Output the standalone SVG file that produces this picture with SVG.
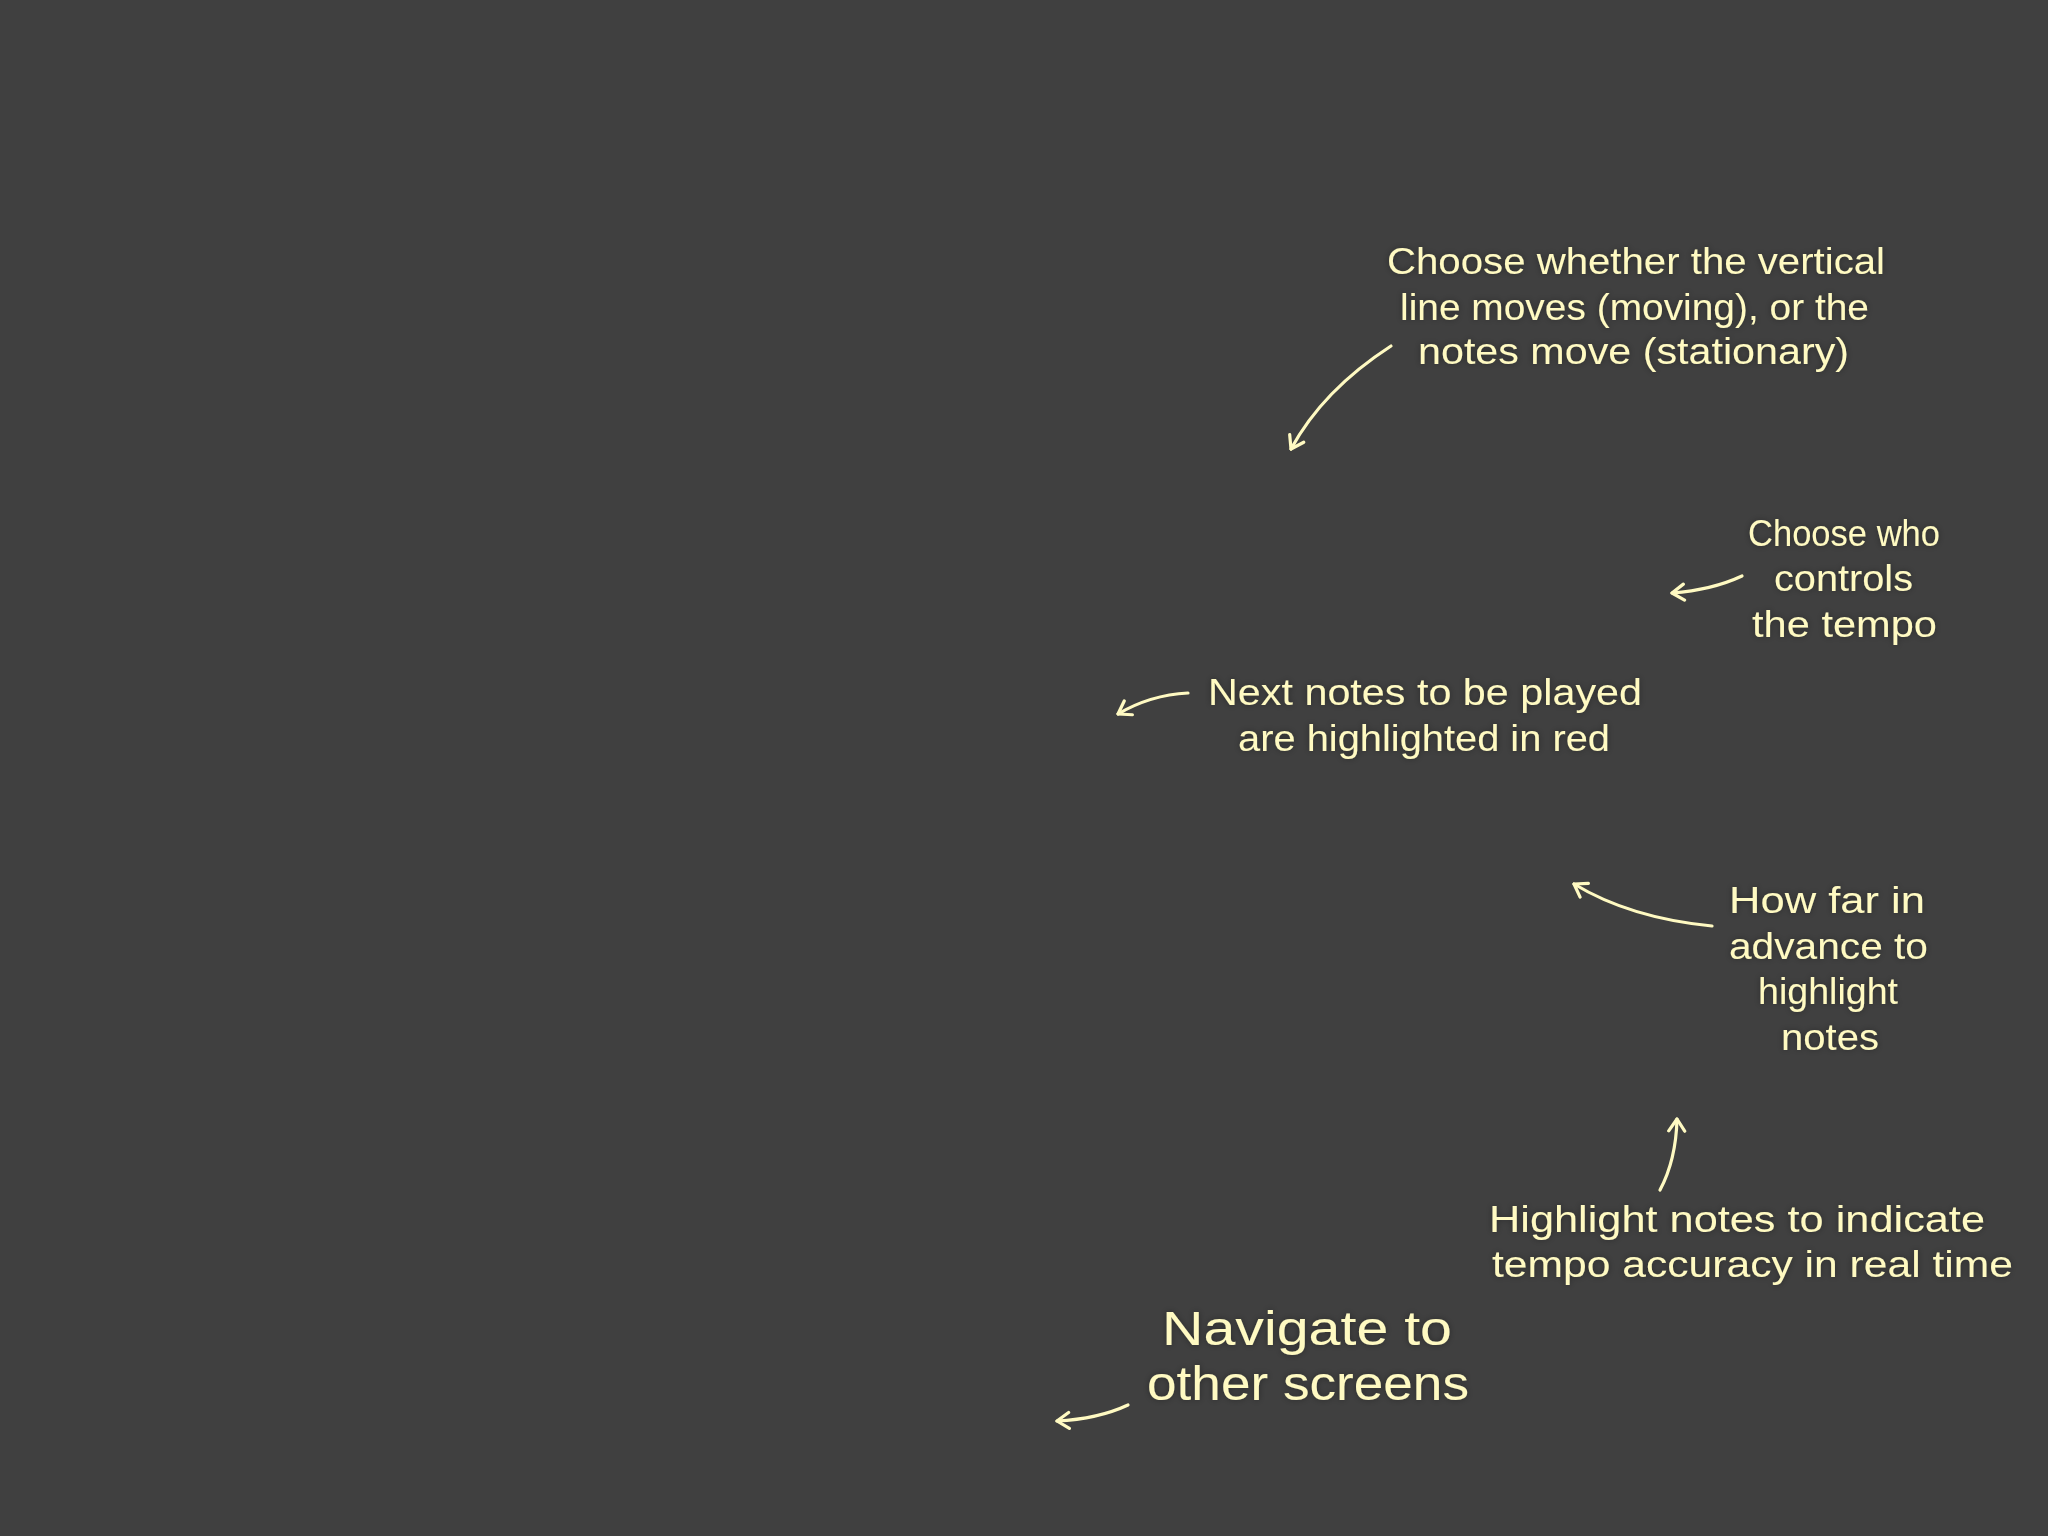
<svg xmlns="http://www.w3.org/2000/svg" width="2048" height="1536" viewBox="0 0 2048 1536">
<defs>
<style>
.t{font-family:"Liberation Sans","DejaVu Sans",sans-serif;font-size:36px;fill:#FFFAC2;}
.big{font-size:48px;}
.c{fill:none;stroke:#FFFAC2;stroke-width:3.2;stroke-linecap:round;stroke-linejoin:round;}
</style>
<marker id="ah" viewBox="-14 -10 16 20" markerWidth="16" markerHeight="20" refX="0" refY="0" orient="auto" markerUnits="userSpaceOnUse">
<path d="M -12 -8 L 0 0 L -12 8" fill="none" stroke="#FFFAC2" stroke-width="3.2" stroke-linecap="round" stroke-linejoin="round"/>
</marker>
<filter id="sh" x="-10%" y="-30%" width="120%" height="160%">
<feDropShadow dx="0" dy="0" stdDeviation="3" flood-color="#000" flood-opacity="0.35"/>
</filter>
</defs>
<rect width="2048" height="1536" fill="#404040"/>
<g id="connectors">
<path class="c" d="M 1391 346 Q 1323 390 1291 449" marker-end="url(#ah)"/>
<path class="c" d="M 1742 576 Q 1712 590 1672 593" marker-end="url(#ah)"/>
<path class="c" d="M 1188 693 Q 1150 695 1118 714" marker-end="url(#ah)"/>
<path class="c" d="M 1712 926 Q 1630 918 1574 884" marker-end="url(#ah)"/>
<path class="c" d="M 1660 1190 Q 1676 1160 1677 1119" marker-end="url(#ah)"/>
<path class="c" d="M 1128 1405 Q 1098 1419 1057 1421" marker-end="url(#ah)"/>
</g>
<g id="note-line-mode" filter="url(#sh)">
<text class="t" x="1387" y="274" textLength="498" lengthAdjust="spacingAndGlyphs">Choose whether the vertical</text>
<text class="t" x="1400" y="320" textLength="469" lengthAdjust="spacingAndGlyphs">line moves (moving), or the</text>
<text class="t" x="1418" y="364" textLength="431" lengthAdjust="spacingAndGlyphs">notes move (stationary)</text>
</g>
<g id="note-tempo-control" filter="url(#sh)">
<text class="t" x="1748" y="546" textLength="192" lengthAdjust="spacingAndGlyphs">Choose who</text>
<text class="t" x="1774" y="591" textLength="139" lengthAdjust="spacingAndGlyphs">controls</text>
<text class="t" x="1752" y="637" textLength="185" lengthAdjust="spacingAndGlyphs">the tempo</text>
</g>
<g id="note-next-notes" filter="url(#sh)">
<text class="t" x="1208" y="705" textLength="434" lengthAdjust="spacingAndGlyphs">Next notes to be played</text>
<text class="t" x="1238" y="751" textLength="372" lengthAdjust="spacingAndGlyphs">are highlighted in red</text>
</g>
<g id="note-advance" filter="url(#sh)">
<text class="t" x="1729" y="913" textLength="196" lengthAdjust="spacingAndGlyphs">How far in</text>
<text class="t" x="1729" y="959" textLength="199" lengthAdjust="spacingAndGlyphs">advance to</text>
<text class="t" x="1758" y="1004" textLength="140" lengthAdjust="spacingAndGlyphs">highlight</text>
<text class="t" x="1781" y="1050" textLength="98" lengthAdjust="spacingAndGlyphs">notes</text>
</g>
<g id="note-accuracy" filter="url(#sh)">
<text class="t" x="1489" y="1232" textLength="496" lengthAdjust="spacingAndGlyphs">Highlight notes to indicate</text>
<text class="t" x="1492" y="1277" textLength="521" lengthAdjust="spacingAndGlyphs">tempo accuracy in real time</text>
</g>
<g id="note-navigate" filter="url(#sh)">
<text class="t big" x="1162" y="1345" textLength="290" lengthAdjust="spacingAndGlyphs">Navigate to</text>
<text class="t big" x="1147" y="1400" textLength="322" lengthAdjust="spacingAndGlyphs">other screens</text>
</g>
</svg>
